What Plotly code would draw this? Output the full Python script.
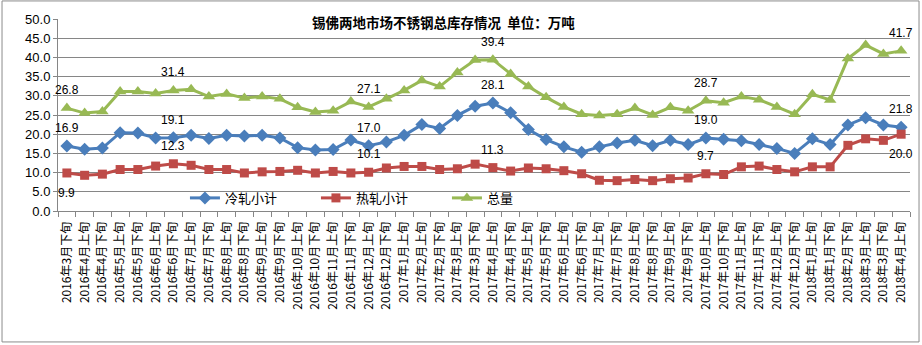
import plotly.graph_objects as go

categories = [
    "2016年3月下旬", "2016年4月上旬", "2016年4月下旬", "2016年5月上旬", "2016年5月下旬",
    "2016年6月上旬", "2016年6月下旬", "2016年7月上旬", "2016年7月下旬", "2016年8月上旬",
    "2016年8月下旬", "2016年9月上旬", "2016年9月下旬", "2016年10月上旬", "2016年10月下旬",
    "2016年11月上旬", "2016年11月下旬", "2016年12月上旬", "2016年12月下旬", "2017年1月上旬",
    "2017年2月上旬", "2017年2月下旬", "2017年3月上旬", "2017年3月下旬", "2017年4月上旬",
    "2017年4月下旬", "2017年5月上旬", "2017年5月下旬", "2017年6月上旬", "2017年6月下旬",
    "2017年7月上旬", "2017年7月下旬", "2017年8月上旬", "2017年8月下旬", "2017年9月上旬",
    "2017年9月下旬", "2017年10月上旬", "2017年10月下旬", "2017年11月上旬", "2017年11月下旬",
    "2017年12月上旬", "2017年12月下旬", "2018年1月上旬", "2018年1月下旬", "2018年2月下旬",
    "2018年3月上旬", "2018年3月下旬", "2018年4月上旬",
]

cold = [16.9, 16.1, 16.4, 20.4, 20.3, 19.0, 19.1, 19.7, 18.9, 19.7,
        19.5, 19.7, 19.0, 16.5, 15.9, 16.0, 18.5, 17.0, 18.0, 19.7,
        22.5, 21.5, 24.9, 27.3, 28.1, 25.6, 21.2, 18.6, 16.7, 15.3,
        16.7, 17.7, 18.4, 17.0, 18.4, 17.3, 19.0, 18.7, 18.3, 17.3,
        16.3, 15.0, 18.8, 17.3, 22.4, 24.3, 22.4, 21.8]

hot = [9.9, 9.3, 9.6, 10.8, 10.8, 11.7, 12.3, 11.9, 10.8, 10.8,
       9.9, 10.2, 10.3, 10.6, 9.9, 10.3, 9.9, 10.1, 11.2, 11.6,
       11.6, 10.8, 11.0, 12.2, 11.3, 10.4, 11.2, 11.0, 10.5, 9.7,
       8.0, 7.9, 8.2, 7.9, 8.4, 8.6, 9.7, 9.5, 11.5, 11.7,
       10.8, 10.2, 11.5, 11.5, 17.1, 18.8, 18.4, 20.0]

total = [26.8, 25.5, 25.9, 31.1, 31.1, 30.6, 31.4, 31.7, 29.8, 30.5,
         29.4, 29.8, 29.2, 27.0, 25.8, 26.1, 28.5, 27.1, 29.2, 31.4,
         34.0, 32.4, 36.1, 39.3, 39.4, 35.7, 32.4, 29.6, 27.1, 25.2,
         24.9, 25.2, 26.8, 25.0, 27.0, 26.1, 28.7, 28.2, 29.8, 29.0,
         27.1, 25.2, 30.4, 28.9, 39.7, 43.2, 40.9, 41.7]

label_idx = [0, 6, 17, 24, 36, 47]
hot_below = [0, 47]

y_ticks = [0, 5, 10, 15, 20, 25, 30, 35, 40, 45, 50]

C_BLUE = "#4A7EBB"
C_RED = "#BE4B48"
C_GREEN = "#98B954"
GRID = "#868686"

fig = go.Figure()
fig.add_trace(go.Scatter(x=categories, y=cold, name="冷轧小计", mode="lines+markers",
                         line=dict(color=C_BLUE, width=3),
                         marker=dict(symbol="diamond", size=10, color=C_BLUE)))
fig.add_trace(go.Scatter(x=categories, y=hot, name="热轧小计", mode="lines+markers",
                         line=dict(color=C_RED, width=3),
                         marker=dict(symbol="square", size=9, color=C_RED)))
fig.add_trace(go.Scatter(x=categories, y=total, name="总量", mode="lines+markers",
                         line=dict(color=C_GREEN, width=3),
                         marker=dict(symbol="triangle-up", size=11, color=C_GREEN)))

annotations = []
lab_font = dict(family="Liberation Sans, Arial, sans-serif", size=12, color="#000000")
for series in (cold, hot, total):
    for i in label_idx:
        below = (series is hot) and (i in hot_below)
        annotations.append(dict(x=categories[i], y=series[i], xref="x", yref="y",
                                text=f"{series[i]:.1f}", showarrow=False,
                                yshift=-20 if below else 18, font=lab_font))

annotations.append(dict(x=0.453, y=0.984, xref="paper", yref="paper",
                        text="<b>锡佛两地市场不锈钢总库存情况  单位：万吨</b>", showarrow=False,
                        font=dict(family="Noto Sans CJK SC, sans-serif", size=13.5, color="#000000"),
                        xanchor="center", yanchor="middle"))

fig.update_layout(
    width=922, height=345,
    margin=dict(l=58, r=12, t=19, b=134),
    paper_bgcolor="white", plot_bgcolor="white",
    showlegend=True,
    legend=dict(orientation="h", x=0.149, y=0.068, xanchor="left", yanchor="middle",
                bgcolor="rgba(0,0,0,0)", entrywidth=86,
                font=dict(family="Noto Sans CJK SC, sans-serif", size=13, color="#000000")),
    annotations=annotations,
    shapes=[dict(type="rect", xref="paper", yref="paper",
                 x0=-0.0657, x1=1.0106, y0=-0.682, y1=1.094,
                 line=dict(color="#8C8C8C", width=1))],
    xaxis=dict(type="category", range=[-0.5, len(categories) - 0.5],
               showline=True, linecolor=GRID, linewidth=1,
               ticks="outside", tickson="boundaries", ticklen=5, tickcolor=GRID,
               tickangle=-90, showgrid=False, ticklabelstandoff=5,
               tickfont=dict(family="Noto Sans CJK SC, sans-serif", size=12, color="#000000")),
    yaxis=dict(range=[0, 50], tickvals=y_ticks, ticktext=[f"{v:.1f}" for v in y_ticks],
               showline=True, linecolor=GRID, linewidth=1,
               ticks="outside", ticklen=4, tickcolor=GRID,
               showgrid=True, gridcolor=GRID, gridwidth=1, zeroline=False,
               tickfont=dict(family="Liberation Sans, Arial, sans-serif", size=13, color="#000000")),
)

fig.write_html("out.html")
